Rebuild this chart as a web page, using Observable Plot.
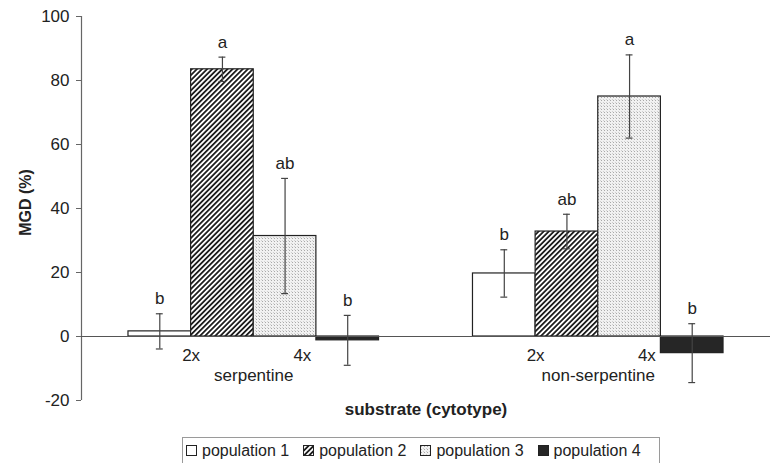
<!DOCTYPE html>
<html>
<head>
<meta charset="utf-8">
<script src="https://cdn.jsdelivr.net/npm/d3@7"></script>
<script src="https://cdn.jsdelivr.net/npm/@observablehq/plot@0.6"></script>
<style>
  html, body { margin: 0; padding: 0; background: #fff; }
  body { font-family: "Liberation Sans", Arial, sans-serif; color: #222; width: 771px; }
  #chart svg { display: block; }
  #legend {
    margin: 7px 0 0 182px;
    width: 478px;
    height: 26px;
    border: 1px solid #9a9a9a;
    border-bottom: none;
    display: flex;
    align-items: center;
    font-size: 16px;
    white-space: nowrap;
    box-sizing: border-box;
    padding-left: 3px;
  }
  #legend .item { display: flex; align-items: center; margin-right: 14px; }
  #legend svg { margin-right: 5px; }
</style>
</head>
<body>
<div id="chart"></div>
<div id="legend"></div>
<script>
// Mean germination difference per population, grouped by substrate
const substrates = ["serpentine", "non-serpentine"];
const populations = ["population 1", "population 2", "population 3", "population 4"];
const cytotypes = ["2x", "4x"];

const serpentineMGD = [1.6, 83.5, 31.4, -1.2];
const serpentineSE = [5.5, 3.8, 18.0, 7.8];
const serpentineLetters = ["b", "a", "ab", "b"];

const nonSerpentineMGD = [19.7, 32.8, 75.0, -5.2];
const nonSerpentineSE = [7.4, 5.4, 13.0, 9.2];
const nonSerpentineLetters = ["b", "ab", "a", "b"];

const yTicks = [-20, 0, 20, 40, 60, 80, 100];

const fills = ["#ffffff", "url(#hatch)", "url(#stipple)", "#262626"];

// Bars are one unit per substrate group; gap between groups is 150% of a bar
const barW = 1 / 5.5;
const capHalf = barW * 0.055;

const means = [serpentineMGD, nonSerpentineMGD];
const errs = [serpentineSE, nonSerpentineSE];
const letters = [serpentineLetters, nonSerpentineLetters];

const rows = substrates.flatMap((s, g) =>
  populations.map((p, i) => {
    const left = g - 2 * barW + i * barW;
    return {
      substrate: s,
      population: p,
      x1: left,
      x2: left + barW,
      xc: left + barW / 2,
      mean: means[g][i],
      lo: means[g][i] - errs[g][i],
      hi: means[g][i] + errs[g][i],
      letter: letters[g][i]
    };
  })
);

// cytotype labels sit at the boundaries between population pairs
const cytoRows = substrates.flatMap((s, g) =>
  cytotypes.map((c, k) => ({label: c, x: g + (k === 0 ? -barW : barW)}))
);
const substrateRows = substrates.map((s, g) => ({label: s, x: g}));

const font = "'Liberation Sans', Arial, sans-serif";

const plot = Plot.plot({
  width: 771,
  height: 430,
  marginLeft: 81,
  marginRight: 1,
  marginTop: 16,
  marginBottom: 30,
  style: {fontFamily: font, fontSize: "17px", color: "#222", background: "#fff"},
  x: {domain: [-0.5, 1.5], axis: null},
  y: {domain: [-20, 100], axis: null},
  color: {type: "ordinal", domain: populations, range: fills},
  marks: [
    Plot.axisY({ticks: yTicks, tickFormat: d => String(d), tickSize: 5, tickPadding: 7, fontSize: 17, stroke: "#666", label: null}),
    Plot.ruleX([-0.5], {stroke: "#666", strokeWidth: 1.2}),
    Plot.rect(rows, {x1: "x1", x2: "x2", y1: 0, y2: "mean", fill: "population", stroke: "#222", strokeWidth: 1.2}),
    Plot.ruleY([0], {stroke: "#555", strokeWidth: 1.2}),
    Plot.ruleX(rows, {x: "xc", y1: "lo", y2: "hi", stroke: "#444", strokeWidth: 1.2}),
    Plot.ruleY(rows, {y: "hi", x1: d => d.xc - capHalf, x2: d => d.xc + capHalf, stroke: "#444", strokeWidth: 1.2}),
    Plot.ruleY(rows, {y: "lo", x1: d => d.xc - capHalf, x2: d => d.xc + capHalf, stroke: "#444", strokeWidth: 1.2}),
    Plot.text(rows, {x: "xc", y: "hi", text: "letter", dy: -15, fontSize: 17, fill: "#222", textAnchor: "middle", lineAnchor: "middle"}),
    Plot.text(cytoRows.filter(d => d.label === "2x"), {x: "x", y: 0, text: "label", dy: 19, fontSize: 17, fill: "#222", textAnchor: "middle", lineAnchor: "middle"}),
    Plot.text(cytoRows.filter(d => d.label === "4x"), {x: "x", y: 0, text: "label", dy: 19, dx: -5, fontSize: 17, fill: "#222", textAnchor: "end", lineAnchor: "middle"}),
    Plot.text(substrateRows, {x: "x", y: 0, text: "label", dy: 39, fontSize: 17, fill: "#222", textAnchor: "middle", lineAnchor: "middle"}),
    Plot.text(["substrate (cytotype)"], {frameAnchor: "bottom", text: d => d, dy: 9, fontSize: 17, fontWeight: "bold", fill: "#222", textAnchor: "middle", lineAnchor: "middle"}),
    Plot.text(["MGD (%)"], {frameAnchor: "left", text: d => d, rotate: -90, dx: -56, dy: -6, fontSize: 16, fontWeight: "bold", fill: "#222", textAnchor: "middle", lineAnchor: "middle"})
  ]
});

// Fill patterns for the hatched and stippled bars
const defs = d3.select(plot).insert("defs", ":first-child");
const hatch = defs.append("pattern")
  .attr("id", "hatch")
  .attr("patternUnits", "userSpaceOnUse")
  .attr("width", 3.6)
  .attr("height", 3.6)
  .attr("patternTransform", "rotate(45)");
hatch.append("rect").attr("width", 3.6).attr("height", 3.6).attr("fill", "#fff");
hatch.append("rect").attr("width", 1.8).attr("height", 3.6).attr("fill", "#1e1e1e");

const stipple = defs.append("pattern")
  .attr("id", "stipple")
  .attr("patternUnits", "userSpaceOnUse")
  .attr("width", 3)
  .attr("height", 3);
stipple.append("rect").attr("width", 3).attr("height", 3).attr("fill", "#f1f1f1");
stipple.append("rect").attr("x", 1).attr("y", 1).attr("width", 1).attr("height", 1).attr("fill", "#a9a9a9");
stipple.append("rect").attr("x", 0).attr("y", 0).attr("width", 1).attr("height", 1).attr("fill", "#d0d0d0");

document.getElementById("chart").append(plot);

// Legend
const legend = d3.select("#legend");
populations.forEach((p, i) => {
  const item = legend.append("div").attr("class", "item");
  const sw = item.append("svg").attr("width", 11).attr("height", 11);
  sw.append("rect")
    .attr("x", 0.5).attr("y", 0.5).attr("width", 10).attr("height", 10)
    .attr("fill", fills[i]).attr("stroke", "#222").attr("stroke-width", 1);
  item.append("span").text(p);
});
</script>
</body>
</html>
